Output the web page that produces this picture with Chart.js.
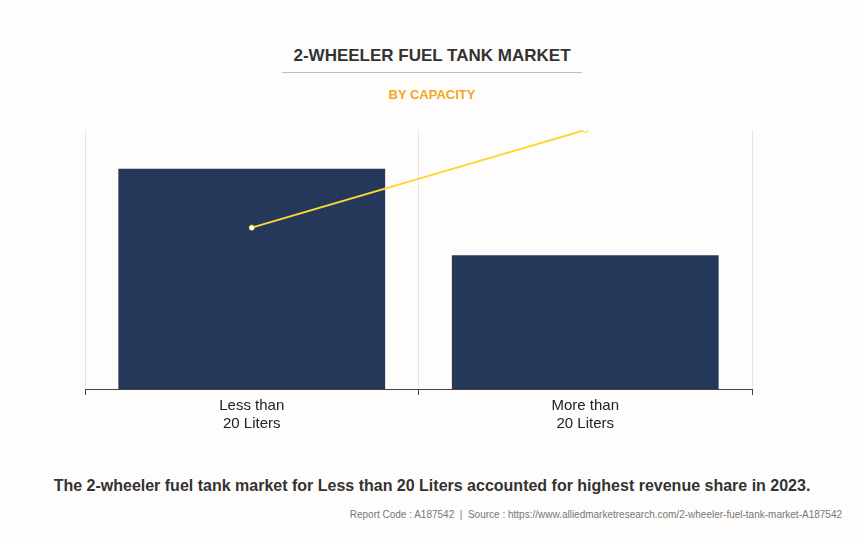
<!DOCTYPE html>
<html><head><meta charset="utf-8">
<script src="https://cdn.jsdelivr.net/npm/chart.js@4"></script>
<style>
body{margin:0;width:864px;height:537px;background:#fefdfc;font-family:Arial,"Liberation Sans",sans-serif;position:relative;overflow:hidden}
#t{position:absolute;top:46px;left:0;width:864px;text-align:center;font-weight:bold;font-size:17px;color:#333}
#ln{position:absolute;top:72px;left:282px;width:300px;height:1px;background:#bbb}
#s{position:absolute;top:87px;left:0;width:864px;text-align:center;font-weight:bold;font-size:13px;color:#f5a623}
#b{position:absolute;top:477px;left:0;width:864px;text-align:center;font-weight:bold;font-size:16px;color:#333}
#f{position:absolute;top:509px;right:22px;font-size:10px;color:#777}
#c{position:absolute;left:80px;top:123px;width:677px;height:312px}
</style></head><body>
<div id="t">2-WHEELER FUEL TANK MARKET</div><div id="ln"></div>
<div id="s">BY CAPACITY</div>
<div id="c"><canvas id="cv"></canvas></div>
<div id="b">The 2-wheeler fuel tank market for Less than 20 Liters accounted for highest revenue share in 2023.</div>
<div id="f">Report Code : A187542 &nbsp;|&nbsp; Source : https://www.alliedmarketresearch.com/2-wheeler-fuel-tank-market-A187542</div>
<script>
const categories=[["Less than","20 Liters"],["More than","20 Liters"]];
const barValues=[8.5,5.16];
const lineValues=[6.23,10];
new Chart(document.getElementById('cv'),{
 data:{labels:categories,datasets:[
  {type:'line',data:lineValues,borderColor:'#fdd835',borderWidth:2,pointRadius:2.5,pointBackgroundColor:'#fff',pointBorderColor:'#fdd835',pointBorderWidth:1,order:0},
  {type:'bar',data:barValues,backgroundColor:'#263859',categoryPercentage:0.8,barPercentage:1,order:1}]},
 options:{responsive:true,maintainAspectRatio:false,animation:false,
  layout:{padding:{left:5,right:5,top:7}},
  plugins:{legend:{display:false},tooltip:{enabled:false}},
  scales:{
   x:{grid:{display:true,offset:true,color:'#e6e6e6',drawTicks:true,tickLength:6,tickColor:'#444'},border:{display:true,color:'#444'},
      ticks:{color:'#222',font:{size:15,family:'Arial, Liberation Sans'},padding:2}},
   y:{display:false,min:0,max:10}}}
});
</script></body></html>
